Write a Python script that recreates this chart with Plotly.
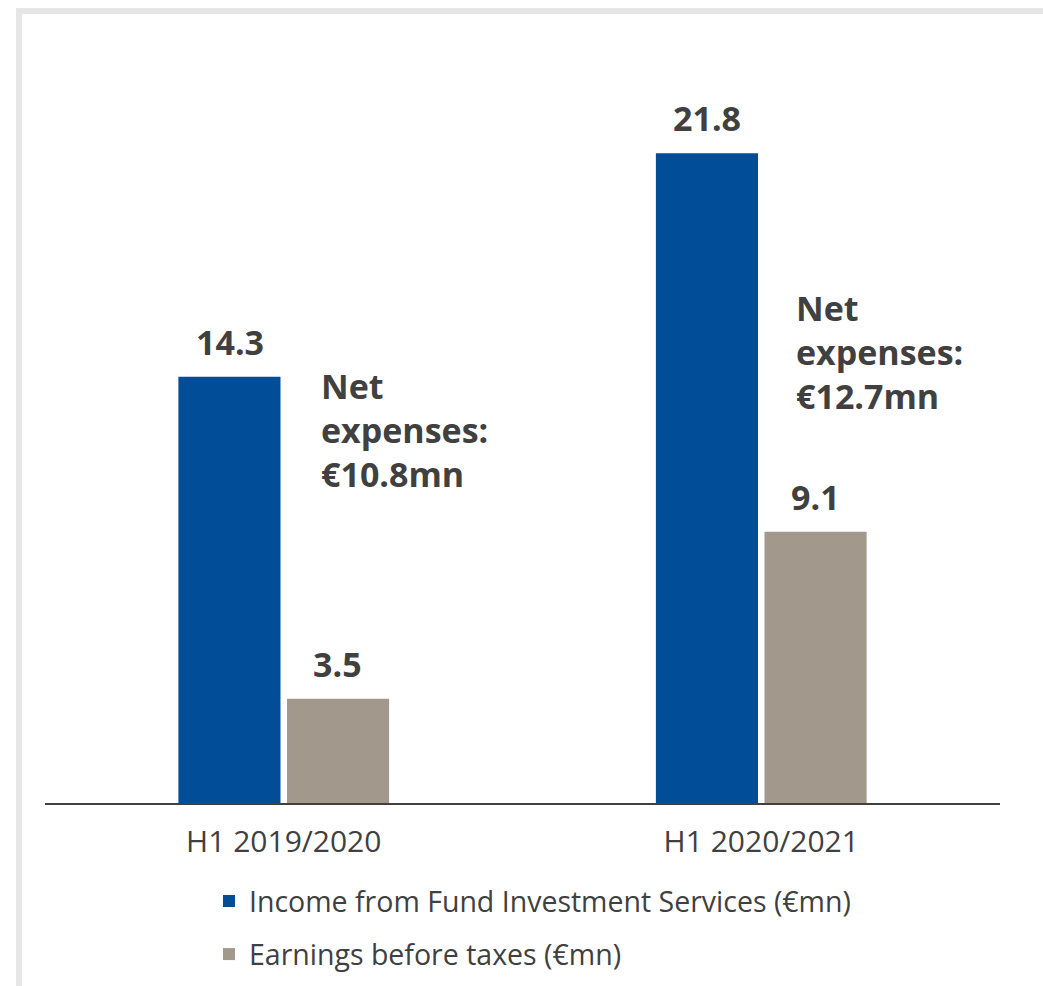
import plotly.graph_objects as go

# Half-year periods and the two reported series (EUR million)
periods = ["H1 2019/2020", "H1 2020/2021"]
income_fis = [14.3, 21.8]
earnings_bt = [3.5, 9.1]
net_expenses = ["€10.8mn", "€12.7mn"]

series_names = [
    "Income from Fund Investment Services (€mn)",
    "Earnings before taxes (€mn)",
]

BLUE = "#024D98"
TAUPE = "#A2998C"
TEXT = "#404040"
FRAME = "#E6E6E6"
FONT = "Open Sans"

W, H = 1043, 986
M_L, M_R, M_T, M_B = 45, 43, 58, 183
PW, PH = W - M_L - M_R, H - M_T - M_B


def px_x(px):
    return (px - M_L) / PW


def px_y(py):
    return (H - M_B - py) / PH


fig = go.Figure()
fig.add_trace(go.Bar(x=periods, y=income_fis, name=series_names[0],
                     marker=dict(color=BLUE, line=dict(width=0)),
                     legendgroup="a"))
fig.add_trace(go.Bar(x=periods, y=earnings_bt, name=series_names[1],
                     marker=dict(color=TAUPE, line=dict(width=0)),
                     legendgroup="b"))

annotations = []
# value labels above each bar
for vals, dx in ((income_fis, -54), (earnings_bt, 54)):
    for p, v in zip(periods, vals):
        annotations.append(dict(
            x=p, y=v, xref="x", yref="y", text=f"{v:.1f}",
            showarrow=False, xshift=dx, yshift=35, yanchor="middle",
            font=dict(family=FONT, size=34, color=TEXT, weight="bold")))

# net expense call-outs beside each pair of bars
for p, txt, ymid, dx in zip(periods, net_expenses, [12.52, 15.12], [35, 33]):
    annotations.append(dict(
        x=p, y=ymid, xref="x", yref="y",
        text=f"Net<br>expenses:<br>{txt}", align="left",
        showarrow=False, xshift=dx, xanchor="left", yanchor="middle",
        font=dict(family=FONT, size=34, color=TEXT, weight="bold")))

# light frame along the top and left edges
shapes = [
    dict(type="rect", xref="paper", yref="paper", layer="below",
         x0=px_x(16), x1=px_x(1043), y0=px_y(14), y1=px_y(8),
         fillcolor=FRAME, line=dict(width=0)),
    dict(type="rect", xref="paper", yref="paper", layer="below",
         x0=px_x(16), x1=px_x(22), y0=px_y(990), y1=px_y(8),
         fillcolor=FRAME, line=dict(width=0)),
]

fig.update_layout(
    width=W, height=H,
    margin=dict(l=M_L, r=M_R, t=M_T, b=M_B),
    paper_bgcolor="white", plot_bgcolor="white",
    barmode="group", bargap=0.545, bargroupgap=0.06,
    font=dict(family=FONT, color=TEXT),
    showlegend=True,
    legend=dict(orientation="v", traceorder="grouped", tracegroupgap=13,
                x=px_x(209), xanchor="left",
                yref="container", y=1 - 876 / H, yanchor="top",
                font=dict(family=FONT, size=28.5, color=TEXT),
                bgcolor="rgba(0,0,0,0)"),
    annotations=annotations,
    shapes=shapes,
)
fig.update_xaxes(showline=True, linecolor=TEXT, linewidth=2,
                 showgrid=False, ticks="", zeroline=False,
                 tickfont=dict(family=FONT, size=30, color=TEXT),
                 ticklabelstandoff=11)
fig.update_yaxes(range=[0, 25], visible=False, showgrid=False,
                 zeroline=False)

fig.write_html("out.html", config={"displayModeBar": False})
